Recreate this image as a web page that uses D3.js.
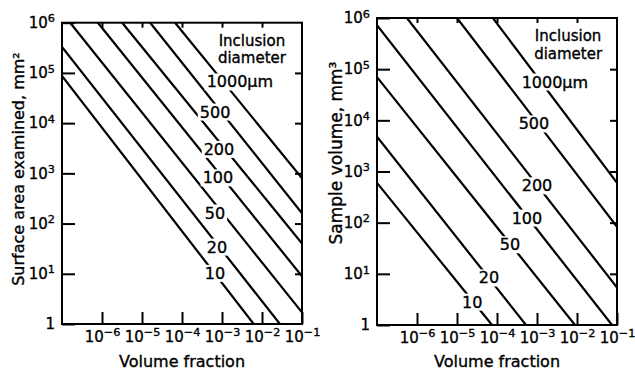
<!DOCTYPE html>
<html>
<head>
<meta charset="utf-8">
<script src="https://cdn.jsdelivr.net/npm/d3@7"></script>
<style>
  body { margin: 0; background: #fff; }
  svg { display: block; font-family: "DejaVu Sans", sans-serif; }
  svg text { fill: #000; stroke: #000; stroke-width: 0.35px; }
</style>
</head>
<body>
<svg id="chart" width="635" height="372"></svg>
<script>
// ---- data ----
const diameters = [10, 20, 50, 100, 200, 500, 1000];
const diameterLabels = ["10", "20", "50", "100", "200", "500", "1000µm"];
const fractionTicks = [1e-6, 1e-5, 1e-4, 1e-3, 1e-2, 1e-1];
const sizeTicks = [1, 1e1, 1e2, 1e3, 1e4, 1e5, 1e6];

// surface area examined (mm2): visible end points [volume fraction, area] per diameter
const areaLines = [
  [[1e-7, 8.7e4], [6.2e-3, 1]],
  [[1e-7, 3.3e5], [2.8e-2, 1]],
  [[1.6e-7, 1e6], [1e-1, 1.7]],
  [[7.9e-7, 1e6], [1e-1, 8.9]],
  [[3.2e-6, 1e6], [1e-1, 40]],
  [[1.6e-5, 1e6], [1e-1, 160]],
  [[6.7e-5, 1e6], [1e-1, 800]]
];

// sample volume (mm3): visible end points [volume fraction, volume] per diameter
const volumeLines = [
  [[1e-7, 600], [7.5e-5, 1]],
  [[1e-7, 4.8e3], [5.3e-4, 1]],
  [[1e-7, 7e4], [8.9e-3, 1]],
  [[1e-7, 7.2e5], [7.5e-2, 1]],
  [[5.6e-7, 1e6], [1e-1, 5.4]],
  [[1e-5, 1e6], [1e-1, 83]],
  [[7.9e-5, 1e6], [1e-1, 600]]
];

// where the diameter labels sit (centre, in data units)
const areaLabelPos = [
  [6.7e-4, 10.2], [7.5e-4, 34], [6.7e-4, 162], [7.9e-4, 813],
  [8.4e-4, 3.0e3], [6.7e-4, 1.66e4], [2.8e-3, 6.6e4]
];
const volumeLabelPos = [
  [2.4e-5, 2.8], [6.3e-5, 8.3], [2.1e-4, 37], [5.6e-4, 123],
  [1e-3, 525], [8.4e-4, 8.5e3], [2.8e-3, 5.6e4]
];
const headerArea = [[5.6e-3, 4.3e5], [5.6e-3, 1.94e5]];
const headerVolume = [[6e-3, 4.35e5], [6e-3, 1.98e5]];

// ---- layout ----
const svg = d3.select("#chart");
const panels = [
  { lines: areaLines, labels: areaLabelPos, header: headerArea,
    left: 62, top: 22.7, right: 302, bottom: 324,
    title: "Surface area examined, mm²", titleX: 18, titleY: 169, titleSize: 16 },
  { lines: volumeLines, labels: volumeLabelPos, header: headerVolume,
    left: 377, top: 18, right: 617, bottom: 325,
    title: "Sample volume, mm³", titleX: 336, titleY: 153, titleSize: 17 }
];

function powerLabels(g) {
  g.selectAll(".tick text").each(function(d) {
    const t = d3.select(this);
    const e = Math.round(Math.log10(d));
    t.text(null);
    if (e === 0) { t.text("1"); return; }
    t.append("tspan").text("10");
    t.append("tspan").attr("dy", "-0.5em").attr("font-size", "0.75em")
      .text(e < 0 ? "\u2212" + (-e) : e);
  });
}

panels.forEach((p, i) => {
  const x = d3.scaleLog().domain([1e-7, 1e-1]).range([p.left, p.right]);
  const y = d3.scaleLog().domain([1, 1e6]).range([p.bottom, p.top]);

  const clipId = "clip" + i;
  svg.append("clipPath").attr("id", clipId)
    .append("rect")
    .attr("x", p.left).attr("y", p.top)
    .attr("width", p.right - p.left).attr("height", p.bottom - p.top);

  // diagonal lines
  const line = d3.line().x(d => x(d[0])).y(d => y(d[1]));
  svg.append("g").attr("clip-path", `url(#${clipId})`)
    .selectAll("path")
    .data(p.lines)
    .enter()
    .append("path")
    .attr("d", line)
    .attr("fill", "none")
    .attr("stroke", "#000")
    .attr("stroke-width", 2.2);

  // labels sitting in gaps of the lines
  const lab = svg.append("g").attr("font-size", 16);
  p.labels.forEach((pos, j) => {
    const t = lab.append("text")
      .attr("x", x(pos[0])).attr("y", y(pos[1]))
      .attr("text-anchor", "middle")
      .attr("dominant-baseline", "central")
      .text(diameterLabels[j]);
    const b = t.node().getBBox();
    lab.insert("rect", "text")
      .attr("x", b.x - 2).attr("y", b.y + 1)
      .attr("width", b.width + 4).attr("height", b.height - 2)
      .attr("fill", "#fff");
  });
  ["Inclusion", "diameter"].forEach((s, j) => {
    lab.append("text")
      .attr("x", x(p.header[j][0])).attr("y", y(p.header[j][1]))
      .attr("text-anchor", "middle")
      .attr("dominant-baseline", "central")
      .attr("font-size", 15)
      .text(s);
  });

  // axes, ticks pointing into the frame
  const bottomAx = svg.append("g")
    .attr("transform", `translate(0,${p.bottom})`)
    .call(d3.axisBottom(x).tickValues(fractionTicks).tickSize(-12).tickPadding(7))
    .call(g => g.select(".domain").remove());
  powerLabels(bottomAx);

  const leftAx = svg.append("g")
    .attr("transform", `translate(${p.left},0)`)
    .call(d3.axisLeft(y).tickValues(sizeTicks).tickSize(-13).tickPadding(7))
    .call(g => g.select(".domain").remove());
  powerLabels(leftAx);

  svg.append("g")
    .attr("transform", `translate(0,${p.top})`)
    .call(d3.axisTop(x).tickValues(fractionTicks.slice(0, 5)).tickSize(-5).tickFormat(""))
    .call(g => g.select(".domain").remove());
  svg.append("g")
    .attr("transform", `translate(${p.right},0)`)
    .call(d3.axisRight(y).tickValues(sizeTicks.slice(1, 6)).tickSize(-7).tickFormat(""))
    .call(g => g.select(".domain").remove());

  svg.selectAll(".tick line").attr("stroke-width", 2);
  svg.selectAll(".tick text").attr("font-size", 15).attr("font-family", "DejaVu Sans");

  // frame
  svg.append("rect")
    .attr("x", p.left).attr("y", p.top)
    .attr("width", p.right - p.left).attr("height", p.bottom - p.top)
    .attr("fill", "none").attr("stroke", "#000").attr("stroke-width", 2);

  // axis titles
  svg.append("text")
    .attr("x", (p.left + p.right) / 2).attr("y", 361)
    .attr("text-anchor", "middle").attr("dominant-baseline", "central")
    .attr("font-size", 16)
    .text("Volume fraction");
  svg.append("text")
    .attr("transform", `translate(${p.titleX},${p.titleY}) rotate(-90)`)
    .attr("text-anchor", "middle").attr("dominant-baseline", "central")
    .attr("font-size", p.titleSize)
    .text(p.title);
});
</script>
</body>
</html>
